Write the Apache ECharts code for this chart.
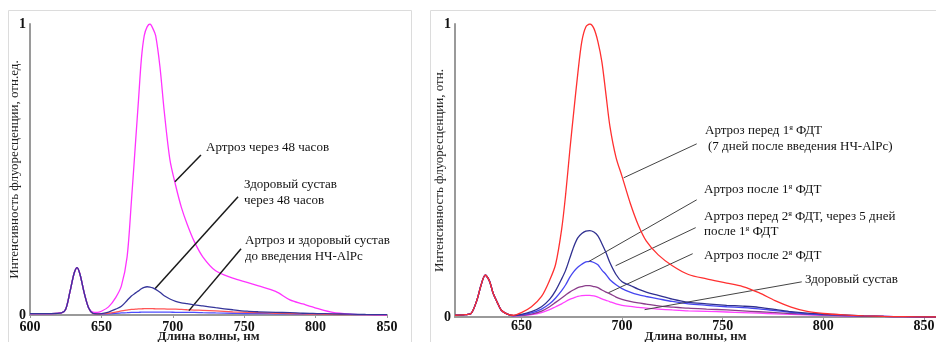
<!DOCTYPE html>
<html><head><meta charset="utf-8">
<script src="https://cdn.jsdelivr.net/npm/echarts@6/dist/echarts.min.js"></script>
<style>html,body{margin:0;padding:0;background:#fff}#c{width:936px;height:342px}</style>
</head><body><div id="c"></div>
<script>
// ---------- Left panel data ----------
const leftWl = [600,615,622,625,628,631,633,635,638,641,644,647,650,655,660,664,668,671,674,676,678,680,682,684,686,688,691,694,698,702,706,710,715,721,730,742,752,760,772,782,791,801,812,824,835,850];
const leftArthrosis48h = [0.005,0.005,0.007,0.02,0.08,0.145,0.163,0.14,0.075,0.025,0.01,0.009,0.013,0.028,0.06,0.1,0.2,0.39,0.6,0.74,0.88,0.96,0.99,1.0,0.985,0.96,0.853,0.7,0.533,0.445,0.37,0.313,0.253,0.2,0.152,0.127,0.112,0.1,0.081,0.052,0.038,0.023,0.009,0.003,0.001,0];
const leftHealthy48h = [0.005,0.005,0.007,0.02,0.08,0.145,0.163,0.14,0.075,0.025,0.006,0.004,0.005,0.01,0.02,0.03,0.05,0.065,0.076,0.083,0.09,0.095,0.097,0.096,0.093,0.088,0.078,0.066,0.055,0.047,0.042,0.039,0.035,0.031,0.025,0.018,0.013,0.011,0.009,0.008,0.006,0.005,0.004,0.003,0.002,0.001];
const leftBeforeRed = [0.005,0.005,0.007,0.02,0.08,0.145,0.163,0.14,0.075,0.025,0.005,0.003,0.004,0.006,0.01,0.014,0.017,0.019,0.02,0.021,0.021,0.022,0.022,0.022,0.022,0.021,0.021,0.021,0.02,0.02,0.019,0.018,0.017,0.016,0.014,0.011,0.009,0.008,0.006,0.005,0.004,0.003,0.002,0.001,0.001,0];
const leftBeforeBlue = [0.005,0.005,0.007,0.02,0.08,0.145,0.163,0.14,0.075,0.025,0.005,0.003,0.003,0.004,0.006,0.007,0.008,0.009,0.009,0.009,0.01,0.01,0.01,0.01,0.01,0.01,0.01,0.01,0.01,0.009,0.009,0.009,0.009,0.008,0.007,0.006,0.005,0.005,0.004,0.004,0.003,0.003,0.002,0.002,0.001,0.001];
const leftXTicks = [600,650,700,750,800,850];

// ---------- Right panel data ----------
const rightWl = [617,622,625,628,630,632,634,636,638,640,643,646,650,655,660,664,667,670,672,674,676,678,680,682,684,686,688,690,692,694,697,700,704,708,712,718,725,733,742,752,760,768,776,784,792,800,810,820,830,840,856];
const rightBefore1 = [0.006,0.008,0.012,0.06,0.11,0.143,0.125,0.08,0.05,0.023,0.01,0.006,0.015,0.035,0.07,0.125,0.18,0.3,0.42,0.565,0.7,0.83,0.94,0.99,1.0,0.985,0.94,0.87,0.76,0.65,0.545,0.48,0.39,0.315,0.26,0.212,0.175,0.145,0.13,0.116,0.104,0.083,0.056,0.034,0.019,0.012,0.007,0.004,0.002,0.001,0];
const rightBefore2 = [0.006,0.008,0.012,0.06,0.11,0.143,0.125,0.08,0.05,0.023,0.01,0.005,0.009,0.018,0.035,0.06,0.09,0.13,0.16,0.2,0.24,0.27,0.285,0.293,0.295,0.29,0.277,0.25,0.22,0.185,0.145,0.12,0.108,0.095,0.085,0.074,0.061,0.05,0.045,0.04,0.037,0.033,0.026,0.018,0.013,0.01,0.007,0.004,0.002,0.001,0];
const rightAfter1 = [0.006,0.008,0.012,0.06,0.11,0.143,0.125,0.08,0.05,0.023,0.01,0.005,0.007,0.014,0.027,0.045,0.065,0.09,0.11,0.135,0.155,0.17,0.18,0.188,0.19,0.186,0.178,0.16,0.145,0.127,0.11,0.097,0.085,0.076,0.07,0.062,0.053,0.045,0.04,0.035,0.032,0.028,0.022,0.016,0.011,0.008,0.005,0.003,0.002,0.001,0];
const rightAfter2 = [0.006,0.008,0.012,0.06,0.11,0.143,0.125,0.08,0.05,0.023,0.01,0.005,0.006,0.01,0.02,0.035,0.05,0.065,0.075,0.085,0.093,0.1,0.104,0.107,0.107,0.104,0.1,0.092,0.085,0.079,0.068,0.06,0.053,0.048,0.044,0.038,0.034,0.03,0.027,0.024,0.021,0.018,0.015,0.012,0.009,0.007,0.005,0.003,0.002,0.001,0];
const rightHealthy = [0.006,0.008,0.012,0.06,0.11,0.143,0.125,0.08,0.05,0.023,0.01,0.004,0.005,0.008,0.015,0.025,0.035,0.045,0.053,0.06,0.065,0.07,0.073,0.074,0.074,0.072,0.068,0.062,0.057,0.052,0.045,0.04,0.036,0.033,0.03,0.027,0.024,0.021,0.019,0.017,0.015,0.013,0.011,0.009,0.007,0.006,0.004,0.003,0.002,0.001,0];
const rightXTicks = [650,700,750,800,850];

// ---------- Texts ----------
const xTitle = 'Длина волны, нм';
const yTitleLeft = 'Интенсивность флуоресценции, отн.ед.';
const yTitleRight = 'Интенсивность флуоресценции, отн.';

const FONT = '"Liberation Serif", "Times New Roman", serif';

function pairs(xs, ys){ return xs.map((x,i)=>[x, ys[i]]); }

const chart = echarts.init(document.getElementById('c'), null, {renderer:'canvas'});

function xAxisCfg(idx, min, max, ticks, gap, lblMargin){
  return {
    type:'value', gridIndex: idx, min, max,
    axisLine:{show:true, onZero:false, lineStyle:{color:'#9a9a9a', width:2}},
    axisTick:{show:true, length:3, inside:false, customValues:ticks, lineStyle:{color:'#9a9a9a', width:1}},
    minorTick:{show:false},
    splitLine:{show:false},
    axisLabel:{customValues:ticks, color:'#111', fontFamily:FONT, fontWeight:'bold', fontSize:14, margin:lblMargin,
      showMinLabel:true, showMaxLabel:true},
    name: xTitle, nameLocation:'middle', nameGap:gap, nameMoveOverlap:false,
    nameTextStyle:{color:'#222', fontFamily:FONT, fontWeight:'bold', fontSize:13, verticalAlign:'top'}
  };
}
function yAxisCfg(idx, title){
  return {
    type:'value', gridIndex: idx, min:0, max:1, interval:1,
    axisLine:{show:true, lineStyle:{color:'#9a9a9a', width:2}},
    axisTick:{show:false},
    splitLine:{show:false},
    axisLabel:{color:'#111', fontFamily:FONT, fontWeight:'bold', fontSize:14, margin:4},
    name:title, nameLocation:'middle', nameRotate:90, nameGap:15, nameMoveOverlap:false,
    nameTextStyle:{color:'#222', fontFamily:FONT, fontSize:13, verticalAlign:'middle'}
  };
}
function lineSeries(xi, data, color, z){
  return {type:'line', xAxisIndex:xi, yAxisIndex:xi, data, showSymbol:false, smooth:0.3,
    lineStyle:{color, width:1.3}, itemStyle:{color}, z: z||2, silent:true, animation:false};
}
function leader(xi, lines, color, width){
  return {type:'line', xAxisIndex:xi, yAxisIndex:xi, data:[], silent:true, animation:false,
    markLine:{silent:true, symbol:['none','none'], label:{show:false}, animation:false,
      lineStyle:{color, width, type:'solid'},
      data: lines.map(l=>[{coord:l[0]},{coord:l[1]}])}};
}

// leader lines in data coordinates (wavelength, intensity)
const leftLeaders = [
  [[701.5,0.458],[719.7,0.55]],
  [[687.5,0.09],[745.7,0.406]],
  [[711.3,0.015],[747.8,0.228]]
];
const rightLeaders = [
  [[700.8,0.475],[737.1,0.591]],
  [[683.4,0.189],[737.1,0.40]],
  [[696.8,0.175],[736.6,0.305]],
  [[693.3,0.083],[735.1,0.216]],
  [[711.2,0.025],[789.3,0.12]]
];

const rich = {
  n:{fontFamily:FONT, fontSize:13, fill:'#111'},
  s:{fontFamily:FONT, fontSize:8, fill:'#111', verticalAlign:'top', padding:[0,0,7,0]}
};
function txt(x, y, t){
  return {type:'text', x, y, style:{text:t, fontFamily:FONT, fontSize:13, fill:'#111', textVerticalAlign:'middle', rich}, silent:true};
}

const option = {
  animation:false,
  backgroundColor:'#fff',
  grid:[
    {left:30, top:24, width:357, height:291, outerBoundsMode:'none', containLabel:false},
    {left:455, top:24, width:481, height:293, outerBoundsMode:'none', containLabel:false}
  ],
  xAxis:[ xAxisCfg(0, 600, 850, leftXTicks, 15, 5), xAxisCfg(1, 617, 856, rightXTicks, 13, 2) ],
  yAxis:[ yAxisCfg(0, yTitleLeft), yAxisCfg(1, yTitleRight) ],
  series:[
    lineSeries(0, pairs(leftWl, leftBeforeBlue), '#4d4dff', 2),
    lineSeries(0, pairs(leftWl, leftBeforeRed), '#ff5555', 3),
    lineSeries(0, pairs(leftWl, leftArthrosis48h), '#ff33ff', 4),
    lineSeries(0, pairs(leftWl, leftHealthy48h), '#35359a', 5),
    lineSeries(1, pairs(rightWl, rightHealthy), '#ff40ff', 2),
    lineSeries(1, pairs(rightWl, rightAfter2), '#8a3c8a', 3),
    lineSeries(1, pairs(rightWl, rightAfter1), '#4646f0', 4),
    lineSeries(1, pairs(rightWl, rightBefore2), '#303090', 5),
    lineSeries(1, pairs(rightWl, rightBefore1), '#ff3030', 6),
    leader(0, leftLeaders, '#1a1a1a', 1.5),
    leader(1, rightLeaders, '#444', 1)
  ],
  graphic:[
    {type:'rect', shape:{x:8.5, y:10.5, width:403, height:340}, style:{fill:'none', stroke:'#dcdcdc', lineWidth:1}, silent:true, z:-10},
    {type:'rect', shape:{x:430.5, y:10.5, width:520, height:340}, style:{fill:'none', stroke:'#dcdcdc', lineWidth:1}, silent:true, z:-10},
    txt(206,148,'{n|Артроз через 48 часов}'),
    txt(244,185,'{n|Здоровый сустав}'),
    txt(244,201,'{n|через 48 часов}'),
    txt(245,241,'{n|Артроз и здоровый сустав}'),
    txt(245,257,'{n|до введения НЧ-AlPc}'),
    txt(705,131,'{n|Артроз перед 1}{s|я}{n| ФДТ}'),
    txt(708,147,'{n|(7 дней после введения НЧ-AlPc)}'),
    txt(704,190,'{n|Артроз после 1}{s|я}{n| ФДТ}'),
    txt(704,217,'{n|Артроз перед 2}{s|я}{n| ФДТ, через 5 дней}'),
    txt(704,232,'{n|после 1}{s|я}{n| ФДТ}'),
    txt(704,256,'{n|Артроз после 2}{s|я}{n| ФДТ}'),
    txt(805,280,'{n|Здоровый сустав}')
  ]
};
chart.setOption(option);
</script>
</body></html>
